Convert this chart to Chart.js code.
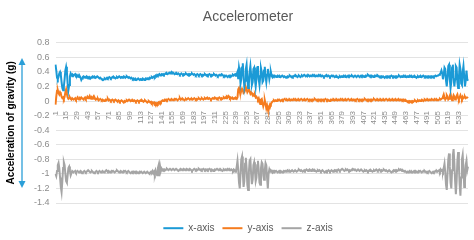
<!DOCTYPE html>
<html>
<head>
<meta charset="utf-8">
<script src="https://cdn.jsdelivr.net/npm/chart.js@4"></script>
<style>
  html, body { margin: 0; padding: 0; background: #fff; }
  #wrap { width: 474px; height: 240px; position: relative; }
</style>
</head>
<body>
<div id="wrap"><canvas id="accChart"></canvas></div>
<script>
/* Accelerometer trace, three axes, ~545 samples */

const TICK_STEP = 14;
const FONT = '"Liberation Sans", Arial, sans-serif';

// --- Data ---

const xAxisVals = [
    // 1-25
    0.50,0.42,0.32,0.30,0.33,0.38,0.40,0.36,0.26,0.18,0.15,0.20,0.30,0.42,0.47,0.40,0.24,0.15,0.22,0.34,
    0.38,0.36,0.34,0.36,0.35,
    // 26-60
    0.36,0.37,0.35,0.36,0.34,0.35,0.33,0.34,0.32,0.29,0.31,0.33,0.34,0.33,0.32,0.33,0.34,0.32,0.33,0.32,
    0.33,0.31,0.32,0.33,0.34,0.33,0.32,0.33,0.32,0.33,0.34,0.33,0.32,0.31,0.32,
    // 61-105
    0.31,0.30,0.30,0.29,0.30,0.31,0.30,0.31,0.32,0.31,0.32,0.33,0.32,0.31,0.32,0.33,0.32,0.33,0.32,0.31,
    0.32,0.33,0.32,0.33,0.34,0.33,0.32,0.33,0.32,0.33,0.34,0.33,0.32,0.33,0.34,0.33,0.32,0.33,0.32,0.31,
    0.32,0.31,0.30,0.31,0.30,
    // 106-130
    0.29,0.30,0.29,0.30,0.31,0.30,0.29,0.30,0.29,0.30,0.31,0.30,0.29,0.30,0.31,0.30,0.31,0.30,0.31,0.32,
    0.31,0.32,0.33,0.32,0.33,
    // 131-145
    0.34,0.33,0.35,0.34,0.36,0.35,0.36,0.37,0.35,0.36,0.37,0.36,0.37,0.36,0.37,
    // 146-200
    0.38,0.37,0.38,0.37,0.38,0.39,0.38,0.39,0.40,0.38,0.39,0.38,0.37,0.38,0.37,0.38,0.37,0.38,0.37,0.36,
    0.37,0.38,0.37,0.36,0.37,0.36,0.37,0.38,0.37,0.36,0.37,0.36,0.37,0.36,0.37,0.38,0.37,0.36,0.37,0.36,
    0.35,0.36,0.37,0.36,0.35,0.36,0.37,0.36,0.35,0.36,0.35,0.36,0.37,0.36,0.35,
    // 201-238
    0.36,0.35,0.36,0.37,0.36,0.35,0.36,0.35,0.36,0.37,0.36,0.35,0.36,0.35,0.34,0.35,0.36,0.35,0.36,0.37,
    0.36,0.35,0.34,0.35,0.34,0.35,0.34,0.33,0.34,0.35,0.34,0.35,0.34,0.35,0.36,0.35,0.36,0.37,
    // 239-290
    0.36,0.37,0.40,0.30,0.46,0.40,0.24,0.30,0.46,0.52,0.34,0.20,0.28,0.44,0.50,0.32,0.18,0.24,0.40,0.48,
    0.36,0.22,0.26,0.44,0.46,0.30,0.20,0.30,0.46,0.48,0.30,0.22,0.34,0.45,0.40,0.26,0.28,0.42,0.47,0.34,
    0.26,0.36,0.44,0.38,0.30,0.36,0.40,0.35,0.33,0.35,0.34,0.35,
    // 291-505
    0.34,0.33,0.34,0.35,0.34,0.33,0.34,0.33,0.34,0.35,0.34,0.33,0.34,0.33,0.32,0.33,0.34,0.33,0.34,0.35,
    0.34,0.33,0.34,0.33,0.34,0.35,0.34,0.35,0.34,0.33,0.34,0.35,0.34,0.33,0.34,0.35,0.34,0.35,0.36,0.35,
    0.34,0.35,0.34,0.36,0.35,0.34,0.35,0.34,0.35,0.36,0.35,0.34,0.35,0.34,0.35,0.34,0.35,0.36,0.35,0.34,
    0.35,0.34,0.35,0.34,0.33,0.34,0.35,0.34,0.35,0.34,0.35,0.34,0.33,0.34,0.35,0.34,0.35,0.34,0.33,0.34,
    0.33,0.34,0.33,0.32,0.33,0.34,0.33,0.34,0.33,0.34,0.35,0.34,0.33,0.34,0.33,0.34,0.35,0.34,0.35,0.34,
    0.34,0.35,0.34,0.33,0.34,0.35,0.34,0.33,0.34,0.35,0.34,0.33,0.34,0.35,0.34,0.35,0.34,0.33,0.34,0.35,
    0.34,0.35,0.36,0.35,0.34,0.35,0.34,0.35,0.34,0.33,0.34,0.35,0.34,0.35,0.34,0.35,0.34,0.33,0.34,0.33,
    0.34,0.33,0.34,0.33,0.32,0.33,0.34,0.33,0.34,0.33,0.34,0.33,0.34,0.35,0.34,0.33,0.34,0.33,0.34,0.33,
    0.34,0.33,0.34,0.35,0.34,0.33,0.34,0.33,0.34,0.35,0.34,0.33,0.34,0.33,0.34,0.33,0.34,0.35,0.34,0.33,
    0.34,0.33,0.34,0.33,0.34,0.33,0.32,0.33,0.34,0.33,0.34,0.33,0.34,0.33,0.34,0.35,0.34,0.33,0.34,0.33,
    0.34,0.33,0.34,0.33,0.34,0.33,0.34,0.33,0.34,0.33,0.34,0.35,0.34,0.34,0.35,
    // 506-545
    0.35,0.36,0.37,0.39,0.42,0.38,0.30,0.36,0.46,0.44,0.28,0.20,0.32,0.48,0.50,0.30,0.18,0.26,0.46,0.50,
    0.32,0.20,0.30,0.48,0.46,0.26,0.18,0.32,0.50,0.44,0.24,0.22,0.40,0.48,0.34,0.20,0.28,0.42,0.30,0.28
];

const yAxisVals = [
    // 1-25
    -0.05,0.06,0.14,0.15,0.11,0.09,0.12,0.10,0.06,0.04,0.05,0.03,0.06,0.12,0.16,0.10,0.05,0.03,0.04,0.05,
    0.03,0.02,0.04,0.03,0.02,
    // 26-60
    0.03,0.04,0.02,0.03,0.05,0.03,0.02,0.04,0.03,0.05,0.04,0.03,0.02,0.04,0.05,0.03,0.04,0.06,0.04,0.05,
    0.07,0.04,0.03,0.05,0.04,0.06,0.03,0.04,0.02,0.03,0.02,0.03,0.01,0.02,0.03,
    // 61-105
    0.02,0.01,0.02,0.01,0.00,0.01,0.02,0.01,0.02,0.03,0.01,0.02,0.01,0.00,0.01,0.02,0.01,0.00,0.01,0.02,
    0.01,0.00,-0.01,0.01,0.00,-0.01,0.00,0.01,0.00,-0.01,-0.02,0.00,-0.01,0.00,0.01,0.00,0.01,0.02,0.01,0.00,
    0.01,0.00,0.01,0.00,0.01,
    // 106-130
    0.00,-0.01,0.00,0.01,0.00,-0.01,0.00,0.01,0.00,0.01,0.00,-0.01,0.00,0.01,0.00,-0.01,-0.02,-0.01,0.00,-0.01,
    -0.02,-0.01,-0.03,-0.02,-0.03,
    // 131-145
    -0.02,-0.04,-0.03,-0.05,-0.03,-0.04,-0.02,-0.03,-0.01,-0.02,0.00,0.01,0.00,0.01,0.02,
    // 146-200
    0.01,0.02,0.01,0.02,0.03,0.02,0.01,0.02,0.03,0.02,0.01,0.02,0.03,0.02,0.03,0.02,0.01,0.02,0.03,0.04,
    0.02,0.03,0.02,0.03,0.02,0.01,0.02,0.03,0.02,0.03,0.04,0.03,0.02,0.03,0.02,0.03,0.02,0.03,0.04,0.03,
    0.02,0.03,0.02,0.03,0.04,0.03,0.02,0.03,0.04,0.03,0.02,0.03,0.04,0.03,0.04,
    // 201-238
    0.03,0.04,0.03,0.04,0.03,0.02,0.03,0.04,0.03,0.04,0.05,0.04,0.03,0.04,0.03,0.04,0.05,0.04,0.03,0.04,
    0.03,0.04,0.05,0.04,0.05,0.04,0.06,0.05,0.07,0.06,0.04,0.05,0.04,0.03,0.04,0.03,0.04,0.03,
    // 239-290
    0.04,0.03,0.05,0.16,0.18,0.13,0.10,0.14,0.17,0.15,0.11,0.12,0.15,0.19,0.16,0.12,0.14,0.18,0.13,0.10,
    0.12,0.10,0.08,0.09,0.07,0.08,0.05,0.06,0.04,0.02,0.04,0.00,-0.04,0.02,0.03,-0.02,-0.07,-0.03,0.01,-0.04,
    -0.10,-0.06,-0.11,-0.12,-0.07,-0.04,-0.05,-0.02,-0.01,0.00,0.01,0.00,
    // 291-505
    0.01,0.00,0.01,0.02,0.01,0.02,0.01,0.00,0.01,0.02,0.01,0.02,0.03,0.02,0.01,0.02,0.01,0.02,0.01,0.02,
    0.01,0.02,0.01,0.02,0.03,0.02,0.01,0.02,0.01,0.02,0.01,0.02,0.01,0.02,0.03,0.02,0.01,0.02,0.01,0.02,
    0.01,0.02,0.03,0.02,0.01,0.02,0.01,0.02,0.01,0.02,0.01,0.02,0.03,0.02,0.01,0.02,0.01,0.02,0.01,0.02,
    0.01,0.02,0.01,0.02,0.01,0.02,0.03,0.02,0.01,0.02,0.01,0.00,0.01,0.02,0.01,0.02,0.01,0.02,0.01,0.02,
    0.01,0.02,0.01,0.02,0.01,0.02,0.03,0.02,0.01,0.02,0.01,0.02,0.01,0.02,0.01,0.02,0.03,0.02,0.01,0.02,
    0.01,0.02,0.01,0.02,0.01,0.02,0.01,0.02,0.03,0.02,0.01,0.02,0.01,0.02,0.01,0.02,0.01,0.02,0.03,0.02,
    0.01,0.02,0.01,0.02,0.01,0.02,0.01,0.02,0.01,0.02,0.03,0.02,0.01,0.02,0.01,0.02,0.01,0.02,0.01,0.02,
    0.01,0.02,0.01,0.02,0.01,0.02,0.03,0.02,0.01,0.02,0.01,0.02,0.01,0.02,0.01,0.02,0.01,0.02,0.01,0.02,
    0.01,0.02,0.01,0.02,0.01,0.02,0.01,0.02,0.01,0.02,0.01,0.00,0.01,0.00,-0.01,0.00,-0.01,0.00,-0.01,0.00,
    -0.01,0.00,-0.01,0.00,0.01,0.00,-0.01,0.00,0.01,0.00,0.01,0.00,0.01,0.02,0.01,0.00,0.01,0.02,0.01,0.02,
    0.01,0.02,0.01,0.02,0.01,0.02,0.03,0.02,0.01,0.02,0.03,0.02,0.01,0.02,0.01,
    // 506-545
    0.01,0.02,0.03,0.02,0.03,0.04,0.06,0.09,0.05,0.02,0.04,0.08,0.06,0.02,0.03,0.07,0.10,0.05,0.01,0.04,
    0.08,0.06,0.02,0.03,0.07,0.09,0.04,0.02,0.05,0.08,0.05,0.03,0.06,0.04,0.05,0.06,0.04,0.05,0.05,0.04
];

const zAxisVals = [
    // 1-25
    -1.00,-1.03,-0.96,-0.88,-0.85,-0.92,-1.05,-1.18,-1.25,-1.10,-0.92,-0.84,-0.88,-1.00,-1.10,-1.12,-1.02,-0.92,-0.90,-0.96,
    -1.02,-0.99,-0.96,-0.97,-0.97,
    // 26-60
    -0.97,-0.96,-0.98,-0.97,-0.96,-0.97,-0.98,-0.97,-0.96,-0.97,-0.99,-0.98,-0.97,-0.96,-0.97,-0.98,-0.97,-0.96,-0.95,-0.96,
    -0.97,-0.98,-0.97,-0.96,-0.97,-0.98,-0.99,-0.98,-0.97,-0.96,-0.97,-0.98,-0.97,-0.96,-0.97,
    // 61-105
    -0.98,-0.97,-0.96,-0.97,-0.98,-0.97,-0.96,-0.95,-0.96,-0.97,-0.96,-0.97,-0.98,-0.97,-0.96,-0.97,-0.96,-0.97,-0.98,-0.97,
    -0.96,-0.95,-0.96,-0.97,-0.98,-0.97,-0.96,-0.97,-0.98,-0.97,-0.96,-0.97,-0.96,-0.97,-0.98,-0.97,-0.96,-0.97,-0.98,-0.99,
    -0.98,-0.97,-0.98,-0.97,-0.98,
    // 106-130
    -0.97,-0.98,-0.97,-0.98,-0.99,-0.98,-0.97,-0.98,-0.97,-0.98,-0.99,-0.98,-0.97,-0.98,-0.99,-0.98,-0.97,-0.98,-0.99,-1.00,
    -0.98,-0.97,-0.98,-0.96,-0.99,
    // 131-145
    -0.97,-1.00,-0.95,-0.98,-1.02,-0.92,-0.88,-1.03,-0.90,-0.96,-0.93,-0.95,-0.94,-0.95,-0.94,
    // 146-200
    -0.95,-0.94,-0.93,-0.94,-0.95,-0.94,-0.93,-0.94,-0.95,-0.94,-0.93,-0.94,-0.95,-0.94,-0.93,-0.94,-0.95,-0.96,-0.95,-0.94,
    -0.93,-0.94,-0.95,-0.94,-0.93,-0.94,-0.95,-0.94,-0.93,-0.94,-0.95,-0.94,-0.93,-0.94,-0.95,-0.96,-0.95,-0.94,-0.93,-0.94,
    -0.95,-0.94,-0.95,-0.94,-0.93,-0.94,-0.95,-0.94,-0.95,-0.94,-0.93,-0.94,-0.95,-0.94,-0.95,
    // 201-238
    -0.94,-0.95,-0.94,-0.93,-0.94,-0.95,-0.94,-0.95,-0.96,-0.95,-0.94,-0.95,-0.94,-0.93,-0.94,-0.95,-0.94,-0.95,-0.94,-0.95,
    -0.96,-0.95,-0.94,-0.95,-0.94,-0.95,-0.94,-0.93,-0.94,-0.95,-0.94,-0.95,-0.94,-0.95,-0.96,-0.94,-0.95,-0.97,
    // 239-290
    -0.96,-0.90,-0.82,-0.95,-1.12,-1.20,-1.00,-0.80,-0.76,-0.98,-1.18,-1.10,-0.86,-0.78,-0.92,-1.15,-1.22,-0.98,-0.82,-0.80,
    -1.00,-1.14,-1.08,-0.88,-0.84,-0.96,-1.10,-1.05,-0.88,-0.82,-0.94,-1.12,-1.15,-0.92,-0.84,-0.86,-1.02,-1.08,-0.95,-0.85,
    -0.88,-1.05,-1.20,-1.00,-0.94,-0.97,-0.95,-0.96,-0.98,-0.96,-0.97,-0.96,
    // 291-505
    -0.97,-0.96,-0.97,-0.98,-0.97,-0.96,-0.97,-0.96,-0.97,-0.98,-0.97,-0.96,-0.97,-0.96,-0.97,-0.96,-0.95,-0.96,-0.97,-0.96,
    -0.97,-0.96,-0.95,-0.96,-0.97,-0.96,-0.95,-0.96,-0.97,-0.96,-0.95,-0.94,-0.95,-0.96,-0.95,-0.96,-0.97,-0.96,-0.95,-0.96,
    -0.95,-0.94,-0.95,-0.96,-0.95,-0.94,-0.95,-0.96,-0.95,-0.94,-0.95,-0.96,-0.95,-0.96,-0.97,-0.96,-0.95,-0.96,-0.95,-0.96,
    -0.97,-0.96,-0.95,-0.96,-0.97,-0.98,-0.97,-0.96,-0.97,-0.96,-0.95,-0.96,-0.97,-0.96,-0.95,-0.96,-0.97,-0.96,-0.95,-0.96,
    -0.95,-0.96,-0.95,-0.94,-0.95,-0.96,-0.95,-0.94,-0.93,-0.94,-0.95,-0.96,-0.95,-0.94,-0.95,-0.94,-0.95,-0.96,-0.95,-0.96,
    -0.95,-0.94,-0.93,-0.94,-0.95,-0.94,-0.95,-0.96,-0.95,-0.94,-0.95,-0.96,-0.95,-0.94,-0.95,-0.96,-0.97,-0.96,-0.95,-0.96,
    -0.95,-0.96,-0.97,-0.96,-0.95,-0.96,-0.95,-0.96,-0.97,-0.96,-0.95,-0.96,-0.95,-0.94,-0.95,-0.96,-0.95,-0.94,-0.95,-0.96,
    -0.95,-0.96,-0.95,-0.94,-0.95,-0.96,-0.95,-0.96,-0.97,-0.96,-0.95,-0.96,-0.97,-0.98,-0.97,-0.96,-0.95,-0.96,-0.95,-0.96,
    -0.95,-0.96,-0.95,-0.94,-0.95,-0.94,-0.95,-0.96,-0.95,-0.96,-0.97,-0.96,-0.97,-0.98,-0.97,-0.98,-0.97,-0.96,-0.97,-0.98,
    -0.97,-0.98,-0.97,-0.96,-0.97,-0.96,-0.97,-0.98,-0.97,-0.96,-0.97,-0.96,-0.97,-0.98,-0.97,-0.96,-0.97,-0.96,-0.97,-0.98,
    -0.97,-0.98,-0.97,-0.96,-0.97,-0.98,-0.99,-0.98,-0.97,-0.98,-0.97,-0.96,-0.97,-0.96,-0.97,
    // 506-545
    -0.96,-0.95,-0.97,-0.94,-0.96,-0.95,-0.97,-0.92,-0.86,-0.98,-1.15,-1.22,-1.00,-0.80,-0.72,-0.90,-1.12,-1.20,-0.95,-0.75,
    -0.66,-0.85,-1.10,-1.28,-1.10,-0.82,-0.70,-0.88,-1.15,-1.30,-1.05,-0.80,-0.74,-0.92,-1.18,-1.10,-0.88,-0.82,-0.95,-0.90
];

// sample numbers 1..N on the category axis
const sampleLabels = xAxisVals.map((_, i) => String(i + 1));

const seriesNames = ['x-axis', 'y-axis', 'z-axis'];
const seriesColors = ['#1b9ad6', '#f57c1f', '#a5a5a5'];

const yTitle = 'Acceleration of gravity (g)';

// --- Y title + double arrow, drawn left of the tick labels ---

const yTitlePlugin = {
    id: 'yTitleArrow',
    beforeInit: (chart) => {
        // fixed legend height so the plot ends where the original does
        const legend = chart.legend;
        if (!legend) return;
        const origFit = legend.fit;
        legend.fit = function () {
            origFit.call(this);
            this.height = 37;
        };
    },
    afterDraw: (chart) => {
        const ctx = chart.ctx;
        const area = chart.chartArea;
        const mid = (area.top + area.bottom) / 2;
        const top = mid - 65, bottom = mid + 65;
        const ax = 22;
        ctx.save();
        ctx.strokeStyle = '#2b9fd8';
        ctx.fillStyle = '#2b9fd8';
        ctx.lineWidth = 1.3;
        ctx.beginPath();
        ctx.moveTo(ax, top + 4);
        ctx.lineTo(ax, bottom - 4);
        ctx.stroke();
        ctx.beginPath();
        ctx.moveTo(ax, top); ctx.lineTo(ax - 3.5, top + 7); ctx.lineTo(ax + 3.5, top + 7);
        ctx.closePath(); ctx.fill();
        ctx.beginPath();
        ctx.moveTo(ax, bottom); ctx.lineTo(ax - 3.5, bottom - 7); ctx.lineTo(ax + 3.5, bottom - 7);
        ctx.closePath(); ctx.fill();
        // label
        ctx.translate(11, mid);
        ctx.rotate(-Math.PI / 2);
        ctx.fillStyle = '#000';
        ctx.font = 'bold 10px ' + FONT;
        ctx.textAlign = 'center';
        ctx.textBaseline = 'middle';
        ctx.fillText(yTitle, 0, 0);
        ctx.restore();
    }
};

// --- Chart ---

const ctx = document.getElementById('accChart').getContext('2d');

new Chart(ctx, {
    type: 'line',
    data: {
        labels: sampleLabels,
        datasets: [xAxisVals, yAxisVals, zAxisVals].map((vals, i) => ({
            label: seriesNames[i],
            data: vals,
            borderColor: seriesColors[i],
            backgroundColor: seriesColors[i],
            borderWidth: 2,
            pointRadius: 0,
            tension: 0,
        }))
    },
    options: {
        responsive: true,
        maintainAspectRatio: false,
        animation: false,
        layout: { padding: { left: 28, right: 6, top: 0, bottom: 0 } },
        plugins: {
            title: {
                display: true,
                text: 'Accelerometer',
                color: '#595959',
                font: { family: FONT, size: 14, weight: 'normal' },
                padding: { top: 9, bottom: 17 },
            },
            legend: {
                position: 'bottom',
                // blank title only pushes the legend row down
                title: { display: true, text: '', font: { size: 1 }, padding: { top: 11, bottom: 0 } },
                labels: {
                    usePointStyle: true,
                    pointStyle: 'line',
                    pointStyleWidth: 20,
                    color: '#595959',
                    font: { family: FONT, size: 10 },
                    padding: 8,
                }
            },
            tooltip: { enabled: false },
        },
        scales: {
            x: {
                position: { y: 0 },
                grid: { display: false },
                border: { display: false },
                ticks: {
                    autoSkip: false,
                    minRotation: 90,
                    maxRotation: 90,
                    color: '#8c8c8c',
                    font: { family: FONT, size: 8 },
                    padding: 2,
                    callback: function (value, index) {
                        return index % TICK_STEP === 0 ? this.getLabelForValue(value) : null;
                    }
                }
            },
            y: {
                min: -1.4,
                max: 0.8,
                grid: { color: '#e3e3e3', drawTicks: false },
                border: { display: false },
                ticks: {
                    stepSize: 0.2,
                    color: '#8c8c8c',
                    font: { family: FONT, size: 9 },
                    padding: 6,
                    callback: (v) => String(Math.round(v * 10) / 10)
                }
            }
        }
    },
    plugins: [yTitlePlugin]
});
</script>
</body>
</html>
